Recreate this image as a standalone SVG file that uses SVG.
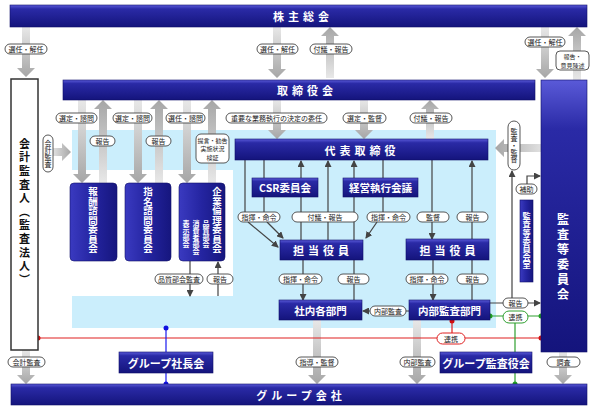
<svg xmlns="http://www.w3.org/2000/svg" width="593" height="411" viewBox="0 0 593 411">
<defs>
<linearGradient id="nb" x1="0" y1="0" x2="0" y2="1">
<stop offset="0" stop-color="#5a5ad8"/><stop offset="0.18" stop-color="#2a2aa6"/><stop offset="1" stop-color="#14147c"/>
</linearGradient>
<linearGradient id="nbv" x1="0" y1="0" x2="1" y2="0">
<stop offset="0" stop-color="#3a3ac0"/><stop offset="0.5" stop-color="#2424a0"/><stop offset="1" stop-color="#16167e"/>
</linearGradient>
<linearGradient id="gd" x1="0" y1="0" x2="0" y2="1"><stop offset="0" stop-color="#e8e8e8"/><stop offset="1" stop-color="#a6a6a6"/></linearGradient>
<linearGradient id="gu" x1="0" y1="1" x2="0" y2="0"><stop offset="0" stop-color="#e8e8e8"/><stop offset="1" stop-color="#a6a6a6"/></linearGradient>
<linearGradient id="gl" x1="1" y1="0" x2="0" y2="0"><stop offset="0" stop-color="#e0e0e0"/><stop offset="1" stop-color="#a6a6a6"/></linearGradient>
<linearGradient id="gr" x1="0" y1="0" x2="1" y2="0"><stop offset="0" stop-color="#e0e0e0"/><stop offset="1" stop-color="#a6a6a6"/></linearGradient>
<marker id="ah" markerUnits="userSpaceOnUse" markerWidth="7" markerHeight="7" refX="6" refY="3.5" orient="auto">
<path d="M0,0 L7,3.5 L0,7 Z" fill="#444"/>
</marker>
<style>
.bar{fill:url(#nb);stroke:#10106a;stroke-width:0.6}
.vbox{fill:url(#nbv);stroke:#10106a;stroke-width:0.6}
.bt{font-family:"Noto Sans CJK JP",sans-serif;font-weight:bold;fill:#fff;text-anchor:middle;dominant-baseline:central}
.vt{font-family:"Noto Sans CJK JP",sans-serif;font-weight:bold;fill:#fff;writing-mode:vertical-rl;text-anchor:start}
.lb{fill:#fff;stroke:#444;stroke-width:0.9}
.lt{font-family:"Noto Sans CJK JP",sans-serif;font-size:7px;fill:#222;text-anchor:middle;dominant-baseline:central}
.ls{font-family:"Noto Sans CJK JP",sans-serif;font-size:6px;fill:#222;text-anchor:middle;dominant-baseline:central}
.lvt{font-family:"Noto Sans CJK JP",sans-serif;font-size:7px;fill:#222;writing-mode:vertical-rl;text-anchor:middle}
.ln{fill:none;stroke:#444;stroke-width:1.2}
.ar{fill:none;stroke:#444;stroke-width:1.2;marker-end:url(#ah)}
</style>
</defs>
<rect width="593" height="411" fill="#fff"/>
<path d="M72 130 H496 V328 H72 V296 H233 V170 H72 Z" fill="#cbeefc"/>

<g id="connectors">
<g fill="url(#gd)">
<path d="M22 27 L30 27 L30 68 L35 68 L26 77 L17 68 L22 68 Z"/>
<path d="M273 27 L281 27 L281 69 L286 69 L277 78 L268 69 L273 69 Z"/>
<path d="M541 27 L549 27 L549 69 L554 69 L545 78 L536 69 L541 69 Z"/>
<path d="M78 100 L86 100 L86 174 L91 174 L82 183 L73 174 L78 174 Z"/>
<path d="M134 100 L142 100 L142 174 L147 174 L138 183 L129 174 L134 174 Z"/>
<path d="M183 100 L191 100 L191 174 L196 174 L187 183 L178 174 L183 174 Z"/>
<path d="M273 100 L281 100 L281 130 L286 130 L277 139 L268 130 L273 130 Z"/>
<path d="M360 100 L368 100 L368 130 L373 130 L364 139 L355 130 L360 130 Z"/>
<path d="M22 350 L30 350 L30 375 L35 375 L26 384 L17 375 L22 375 Z"/>
<path d="M313 320 L321 320 L321 375 L326 375 L317 384 L308 375 L313 375 Z"/>
<path d="M413 320 L421 320 L421 375 L426 375 L417 384 L408 375 L413 375 Z"/>
<path d="M559 352 L567 352 L567 375 L572 375 L563 384 L554 375 L559 375 Z"/>
</g>
<g fill="url(#gu)">
<path d="M326 78 L334 78 L334 36 L339 36 L330 27 L321 36 L326 36 Z"/>
<path d="M573 80 L581 80 L581 36 L586 36 L577 27 L568 36 L573 36 Z"/>
<path d="M99 183 L107 183 L107 109 L112 109 L103 100 L94 109 L99 109 Z"/>
<path d="M155 183 L163 183 L163 109 L168 109 L159 100 L150 109 L155 109 Z"/>
<path d="M208 183 L216 183 L216 109 L221 109 L212 100 L203 109 L208 109 Z"/>
<path d="M426 139 L434 139 L434 109 L439 109 L430 100 L421 109 L426 109 Z"/>
</g>
<path d="M541 144 L541 152 L504 152 L504 157 L495 148 L504 139 L504 144 Z" fill="url(#gl)"/>
<path d="M53 148 L53 156 L62 156 L62 161 L71 152 L62 143 L62 148 Z" fill="url(#gr)"/>

<path class="ln" d="M245 160 V212"/>
<path class="ln" d="M264 160 V178 M264 197 V212"/>
<path class="ar" d="M248 222 L278 247"/>
<path class="ar" d="M267 222 L283 238"/>
<path class="ar" d="M301 178 V161"/>
<path class="ln" d="M301 197 V240"/>
<path class="ar" d="M328 240 V161"/>
<path class="ln" d="M354 240 V197"/>
<path class="ar" d="M354 178 V161"/>
<path class="ln" d="M383 160 V178 M383 197 V212"/>
<path class="ar" d="M377 222 L366 238"/>
<path class="ar" d="M432 160 V239"/>
<path class="ar" d="M472 239 V161"/>
<path class="ar" d="M303 260 V300"/>
<path class="ln" d="M354 300 V260"/>
<path class="ar" d="M433 260 V300"/>
<path class="ln" d="M472 300 V260"/>
<path class="ar" d="M409 311 H363"/>
<path class="ar" d="M190 261 V296"/>
<path class="ar" d="M218 296 V262"/>
<path class="ar" d="M490 303 H540"/>
<path class="ar" d="M512 303 V171"/>
<path class="ar" d="M527 184 V176 H540"/>
<path d="M38 338 H541 M452 321 V338" fill="none" stroke="#e02020" stroke-width="1.2"/>
<circle cx="38" cy="338" r="2.5" fill="#d01010"/>
<circle cx="541" cy="338" r="2.5" fill="#d01010"/>
<circle cx="452" cy="321" r="2.5" fill="#d01010"/>
<path d="M490 316 H541 M515 316 V384" fill="none" stroke="#30a030" stroke-width="1.2"/>
<circle cx="490" cy="316" r="2.5" fill="#20a020"/>
<circle cx="541" cy="316" r="2.5" fill="#20a020"/>
<circle cx="515" cy="384" r="2.5" fill="#20a020"/>
<path d="M166 328 V384" fill="none" stroke="#1818f0" stroke-width="1.2"/>
<circle cx="166" cy="328" r="2.5" fill="#1010e0"/>
<circle cx="166" cy="384" r="2.5" fill="#1010e0"/>

<g>
<rect class="lb" x="5" y="44" width="42" height="10" rx="5"/><text class="lt" x="26" y="49">選任・解任</text>
<rect class="lb" x="257" y="44" width="41" height="10" rx="5"/><text class="lt" x="277.5" y="49">選任・解任</text>
<rect class="lb" x="310" y="44" width="42" height="10" rx="5"/><text class="lt" x="331" y="49">付議・報告</text>
<rect class="lb" x="525" y="37" width="40" height="10" rx="5"/><text class="lt" x="545" y="42">選任・解任</text>
<rect class="lb" x="556" y="51" width="33" height="19" rx="4"/><text class="ls" x="572.5" y="56.5">報告・</text><text class="ls" x="572.5" y="65">意見陳述</text>
<rect class="lb" x="56" y="113" width="41" height="10" rx="5"/><text class="lt" x="76.5" y="118">選定・諮問</text>
<rect class="lb" x="113" y="113" width="39" height="10" rx="5"/><text class="lt" x="132.5" y="118">選定・諮問</text>
<rect class="lb" x="166" y="113" width="39" height="10" rx="5"/><text class="lt" x="185.5" y="118">選任・諮問</text>
<rect class="lb" x="226" y="113" width="101" height="10" rx="5"/><text class="lt" x="276.5" y="118">重要な業務執行の決定の委任</text>
<rect class="lb" x="343" y="113" width="43" height="10" rx="5"/><text class="lt" x="364.5" y="118">選定・監督</text>
<rect class="lb" x="410" y="113" width="42" height="10" rx="5"/><text class="lt" x="431" y="118">付議・報告</text>
<rect class="lb" x="90" y="136" width="25" height="10" rx="5"/><text class="lt" x="102.5" y="141">報告</text>
<rect class="lb" x="146" y="136" width="25" height="10" rx="5"/><text class="lt" x="158.5" y="141">報告</text>
<rect class="lb" x="196" y="134" width="33" height="29" rx="5"/><text class="ls" x="212.5" y="140">提言・勧告</text><text class="ls" x="212.5" y="148.5">実施状況</text><text class="ls" x="212.5" y="157">検証</text>
<rect class="lb" x="43" y="135" width="10" height="37" rx="5"/><text class="lvt" x="48" y="153.5">会計監査</text>
<rect class="lb" x="508" y="121" width="12" height="49" rx="6"/><text class="lvt" x="514" y="145.5">監査・監督</text>
<rect class="lb" x="238" y="212" width="42" height="10" rx="5"/><text class="lt" x="259" y="217">指揮・命令</text>
<rect class="lb" x="292" y="212" width="66" height="10" rx="5"/><text class="lt" x="325" y="217">付議・報告</text>
<rect class="lb" x="367" y="212" width="43" height="10" rx="5"/><text class="lt" x="388.5" y="217">指揮・命令</text>
<rect class="lb" x="417" y="212" width="32" height="10" rx="5"/><text class="lt" x="433" y="217">監督</text>
<rect class="lb" x="457" y="212" width="31" height="10" rx="5"/><text class="lt" x="472.5" y="217">報告</text>
<rect class="lb" x="516" y="184" width="21" height="10" rx="5"/><text class="lt" x="526.5" y="189">補助</text>
<rect class="lb" x="155" y="274" width="48" height="10" rx="5"/><text class="lt" x="179" y="279">品質部会監査</text>
<rect class="lb" x="207" y="274" width="26" height="10" rx="5"/><text class="lt" x="220" y="279">報告</text>
<rect class="lb" x="279" y="274" width="43" height="10" rx="5"/><text class="lt" x="300.5" y="279">指揮・命令</text>
<rect class="lb" x="338" y="274" width="31" height="10" rx="5"/><text class="lt" x="353.5" y="279">報告</text>
<rect class="lb" x="406" y="274" width="42" height="10" rx="5"/><text class="lt" x="427" y="279">指揮・命令</text>
<rect class="lb" x="457" y="274" width="31" height="10" rx="5"/><text class="lt" x="472.5" y="279">報告</text>
<rect class="lb" x="370" y="306" width="36" height="10" rx="5"/><text class="lt" x="388" y="311">内部監査</text>
<rect class="lb" x="503" y="298" width="25" height="10" rx="5"/><text class="lt" x="515.5" y="303">報告</text>
<rect x="503" y="311" width="25" height="12" rx="6" fill="#fff" stroke="#30a030" stroke-width="1"/><text class="lt" x="515.5" y="317">連携</text>
<rect x="437" y="333" width="28" height="11" rx="5.5" fill="#fff" stroke="#e02020" stroke-width="1"/><text class="lt" x="451" y="338.5">連携</text>
<rect class="lb" x="8" y="357" width="37" height="10" rx="5"/><text class="lt" x="26.5" y="362">会計監査</text>
<rect class="lb" x="296" y="357" width="42" height="10" rx="5"/><text class="lt" x="317" y="362">指導・監督</text>
<rect class="lb" x="400" y="357" width="35" height="10" rx="5"/><text class="lt" x="417.5" y="362">内部監査</text>
<rect class="lb" x="547" y="357" width="33" height="10" rx="5"/><text class="lt" x="563.5" y="362">調査</text>
</g>
</g>

<g id="shareholders"><rect class="bar" x="10" y="5" width="577" height="22"/><text class="bt" x="303" y="16" font-size="11" letter-spacing="4">株主総会</text></g>
<g id="board"><rect class="bar" x="63" y="80" width="472" height="20"/><text class="bt" x="307" y="90" font-size="11" letter-spacing="4">取締役会</text></g>
<g id="auditor"><rect x="11" y="79" width="27" height="271" fill="#fff" stroke="#333" stroke-width="1.5"/><text x="24.5" y="213" font-family="Noto Sans CJK JP, sans-serif" font-size="11" font-weight="bold" fill="#111" letter-spacing="2.6" style="writing-mode:vertical-rl" text-anchor="middle">会計監査人（監査法人）</text></g>
<g id="audit-committee"><rect class="bar" x="541" y="80" width="46" height="272"/><text class="vt" x="563" y="213" font-size="12" letter-spacing="3" text-anchor="middle">監査等委員会</text></g>
<g id="comp-committee"><rect class="vbox" x="70" y="183" width="47" height="78" rx="4"/><text class="vt" x="93" y="187" font-size="9.5">報酬諮問委員会</text></g>
<g id="nom-committee"><rect class="vbox" x="125" y="183" width="46" height="78" rx="4"/><text class="vt" x="148" y="187" font-size="9.5">指名諮問委員会</text></g>
<g id="ethics-committee"><rect class="vbox" x="179" y="183" width="46" height="78" rx="4"/><text class="vt" x="217" y="187" font-size="9.5">企業倫理委員会</text><text class="vt" x="206" y="220" font-size="7">品質部会</text><text class="vt" x="196" y="220" font-size="7">消費者部会</text><text class="vt" x="186" y="220" font-size="7">表示部会</text></g>
<g id="ceo"><rect class="bar" x="235" y="139" width="253" height="21"/><text class="bt" x="362" y="149.5" font-size="11" letter-spacing="4">代表取締役</text></g>
<g id="csr"><rect class="bar" x="252" y="178" width="66" height="19"/><text class="bt" x="285" y="187.5" font-size="10.5">CSR委員会</text></g>
<g id="exec-meeting"><rect class="bar" x="343" y="178" width="75" height="19"/><text class="bt" x="380.5" y="187.5" font-size="10.5">経営執行会議</text></g>
<g id="officer1"><rect class="bar" x="280" y="240" width="83" height="20"/><text class="bt" x="323" y="250" font-size="11" letter-spacing="4">担当役員</text></g>
<g id="officer2"><rect class="bar" x="406" y="239" width="83" height="21"/><text class="bt" x="449.5" y="249.5" font-size="11" letter-spacing="4">担当役員</text></g>
<g id="departments"><rect class="bar" x="279" y="300" width="83" height="20"/><text class="bt" x="320.5" y="310" font-size="10.5">社内各部門</text></g>
<g id="internal-audit"><rect class="bar" x="409" y="300" width="81" height="20"/><text class="bt" x="449.5" y="310" font-size="10.5">内部監査部門</text></g>
<g id="audit-office"><rect class="vbox" x="520" y="200" width="13" height="82"/><text class="vt" x="526.5" y="212" font-size="8.2">監査等委員会室</text></g>
<g id="group-presidents"><rect class="bar" x="119" y="352" width="94" height="21"/><text class="bt" x="166" y="362.5" font-size="11">グループ社長会</text></g>
<g id="group-auditors"><rect class="bar" x="440" y="352" width="92" height="21"/><text class="bt" x="486" y="362.5" font-size="11">グループ監査役会</text></g>
<g id="group-companies"><rect class="bar" x="11" y="384" width="576" height="21"/><text class="bt" x="301" y="394.5" font-size="11" letter-spacing="4">グループ会社</text></g>
</svg>
